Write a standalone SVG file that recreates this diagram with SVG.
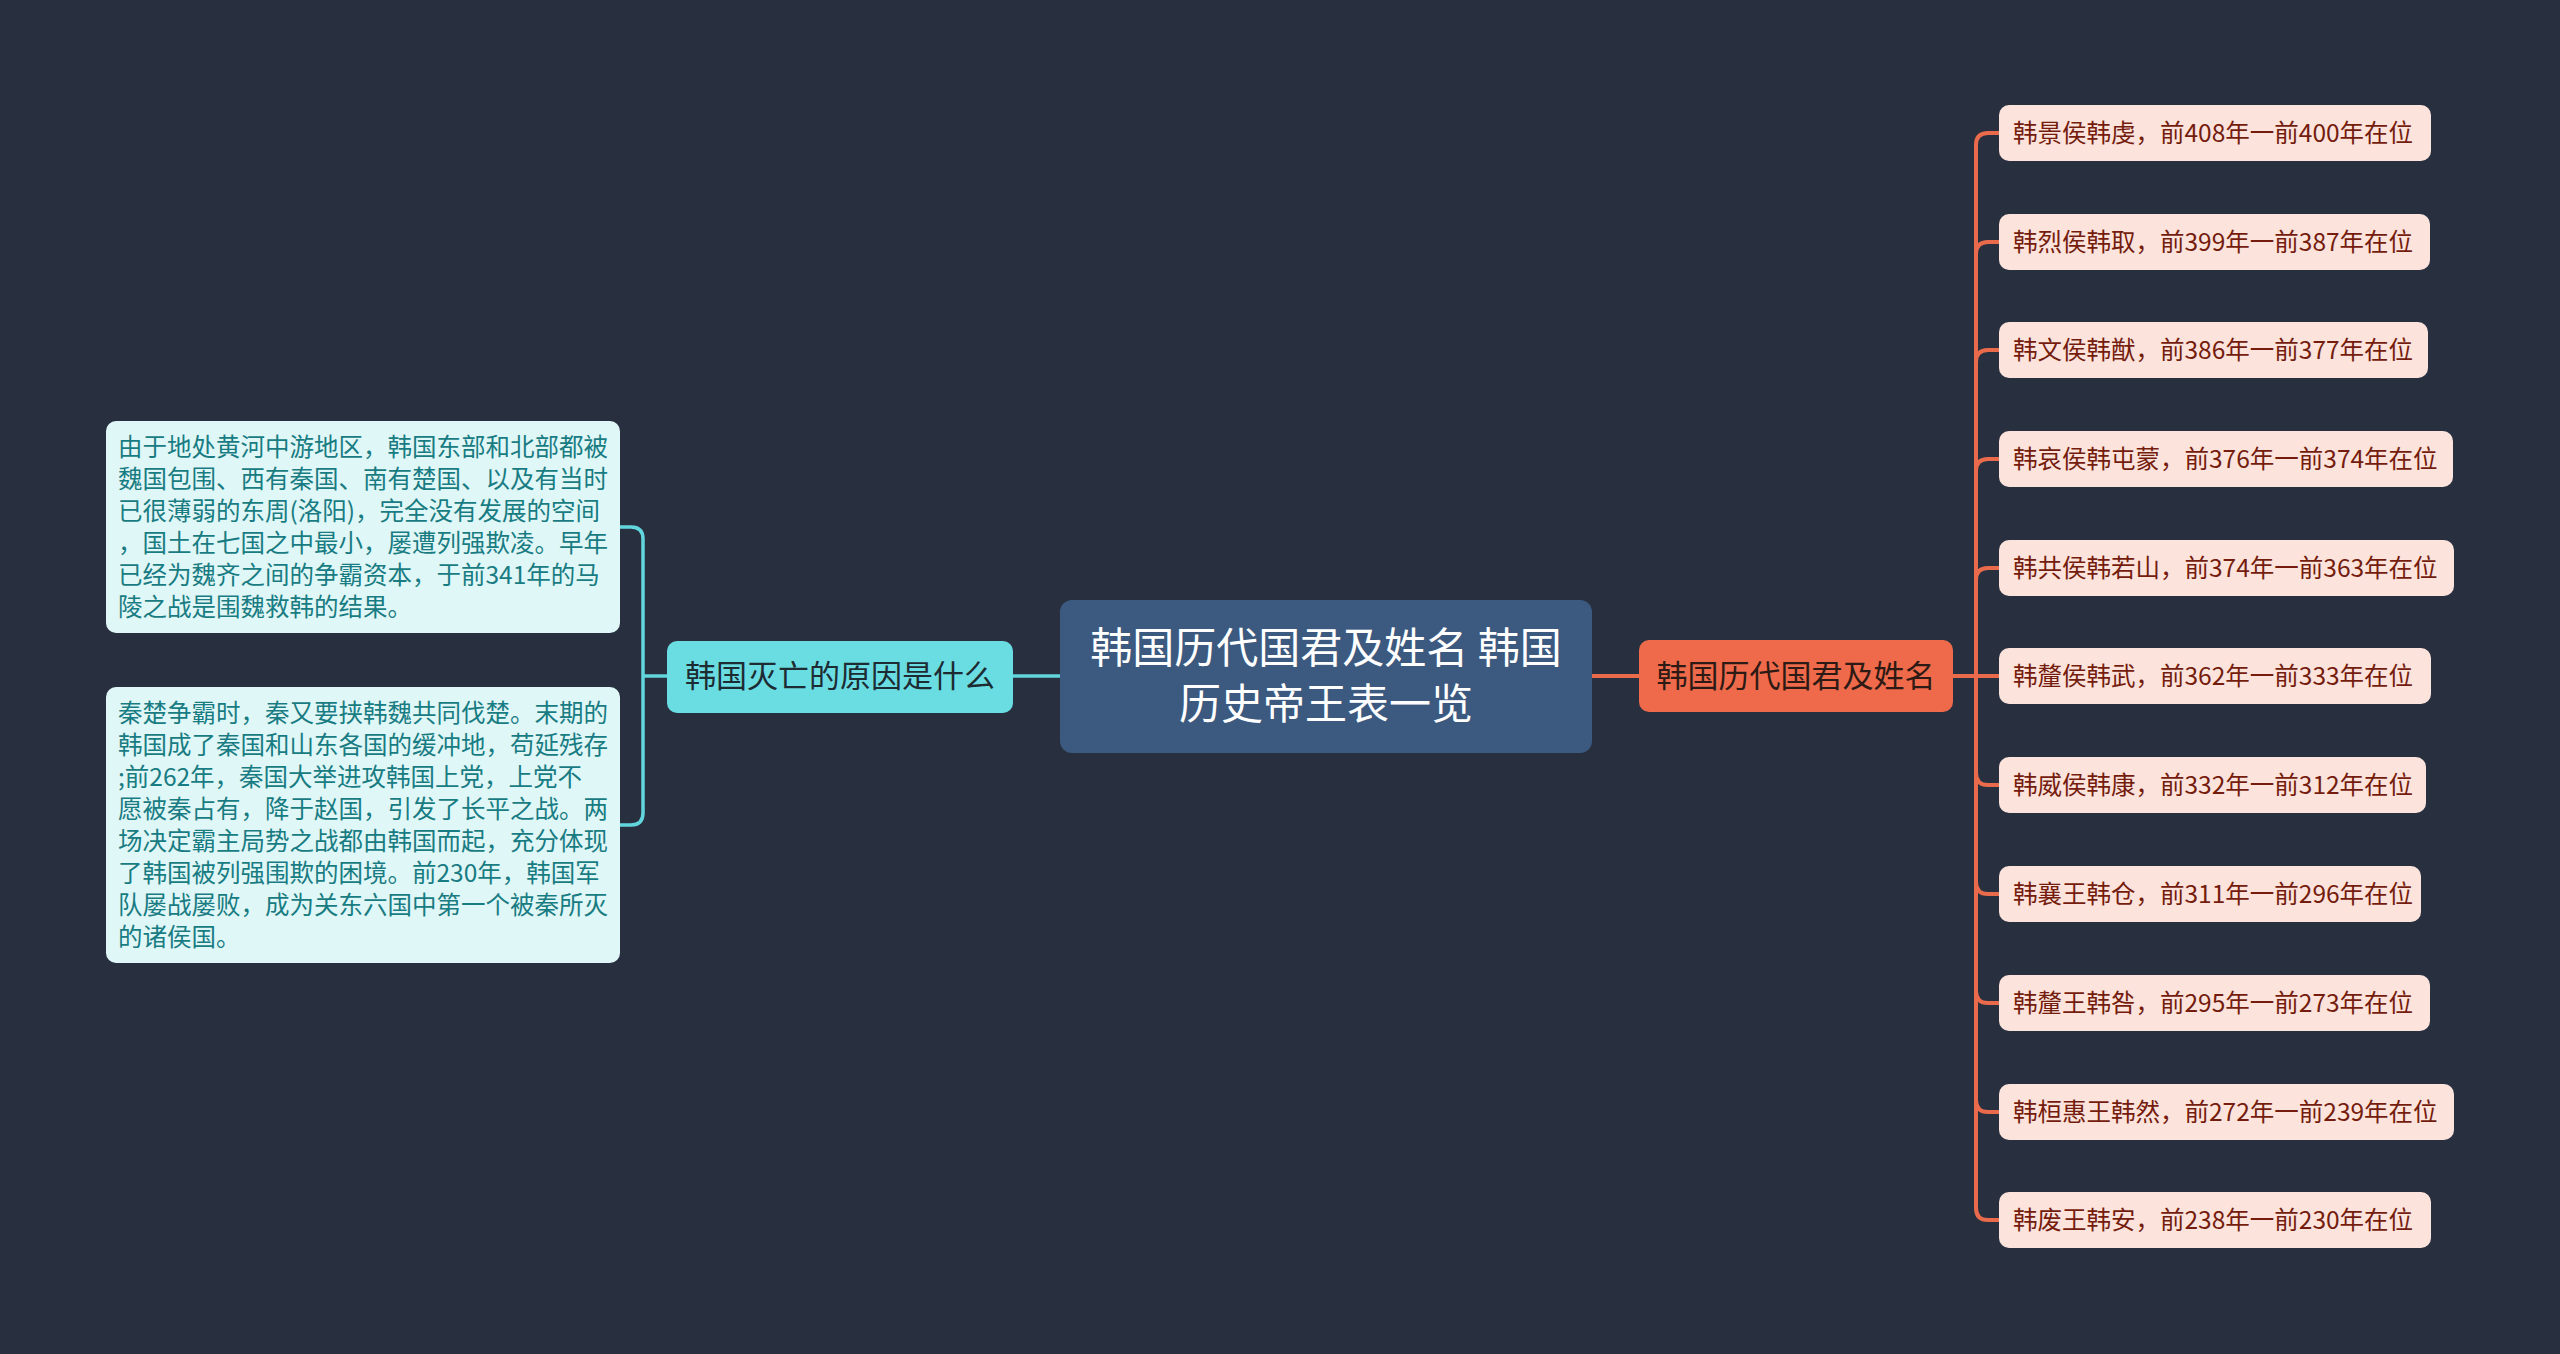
<svg xmlns="http://www.w3.org/2000/svg" width="2560" height="1354" viewBox="0 0 2560 1354">
<style>
text{font-family:"Noto Sans CJK SC","Noto Sans",sans-serif}
.root{fill:#3c5a80}
.roott{fill:#ffffff;font-size:42px;text-anchor:middle}
.sub1{fill:#ee6a4b}
.sub1t{fill:#2e1a14;font-size:31px;text-anchor:middle}
.sub2{fill:#6adde2}
.sub2t{fill:#1d2b33;font-size:31px;text-anchor:middle}
.rl{fill:#fce3dc}
.rlt{fill:#741c0d;font-size:24.5px}
.ll{fill:#e0f7f8}
.llt{fill:#187c82;font-size:24.5px}
.co{fill:none;stroke:#ea6b4c;stroke-width:4}
.cc{fill:none;stroke:#62d6dd;stroke-width:3.5}
</style>
<rect width="2560" height="1354" fill="#283040"/>
<g id="connectors">
<path class="co" d="M1592 676 H1639"/>
<path class="co" d="M1953 676 H1999"/>
<path class="co" d="M1976 676 V145 Q1976 133 1988 133 H1999"/>
<path class="co" d="M1976 676 V254 Q1976 242 1988 242 H1999"/>
<path class="co" d="M1976 676 V362 Q1976 350 1988 350 H1999"/>
<path class="co" d="M1976 676 V471 Q1976 459 1988 459 H1999"/>
<path class="co" d="M1976 676 V580 Q1976 568 1988 568 H1999"/>
<path class="co" d="M1976 676 V773 Q1976 785 1988 785 H1999"/>
<path class="co" d="M1976 676 V882 Q1976 894 1988 894 H1999"/>
<path class="co" d="M1976 676 V991 Q1976 1003 1988 1003 H1999"/>
<path class="co" d="M1976 676 V1100 Q1976 1112 1988 1112 H1999"/>
<path class="co" d="M1976 676 V1208 Q1976 1220 1988 1220 H1999"/>
<path class="cc" d="M1012 676 H1060"/>
<path class="cc" d="M667 676 H643"/>
<path class="cc" d="M643 676 V539 Q643 527 631 527 H620"/>
<path class="cc" d="M643 676 V813 Q643 825 631 825 H620"/>
</g>
<g id="root">
<rect class="root" x="1060" y="600" width="532" height="153" rx="12"/>
<text class="roott" x="1326" y="663">韩国历代国君及姓名 韩国</text>
<text class="roott" x="1326" y="719">历史帝王表一览</text>
</g>
<g id="n-kings">
<rect class="sub1" x="1639" y="640" width="314" height="72" rx="10"/>
<text class="sub1t" x="1796" y="687">韩国历代国君及姓名</text>
</g>
<g id="n-reason">
<rect class="sub2" x="667" y="641" width="346" height="72" rx="10"/>
<text class="sub2t" x="840" y="687">韩国灭亡的原因是什么</text>
</g>
<g id="k1"><rect class="rl" x="1999" y="105" width="432" height="56" rx="10"/><text class="rlt" x="2013" y="142">韩景侯韩虔，前408年一前400年在位</text></g>
<g id="k2"><rect class="rl" x="1999" y="214" width="431" height="56" rx="10"/><text class="rlt" x="2013" y="251">韩烈侯韩取，前399年一前387年在位</text></g>
<g id="k3"><rect class="rl" x="1999" y="322" width="429" height="56" rx="10"/><text class="rlt" x="2013" y="359">韩文侯韩猷，前386年一前377年在位</text></g>
<g id="k4"><rect class="rl" x="1999" y="431" width="454" height="56" rx="10"/><text class="rlt" x="2013" y="468">韩哀侯韩屯蒙，前376年一前374年在位</text></g>
<g id="k5"><rect class="rl" x="1999" y="540" width="455" height="56" rx="10"/><text class="rlt" x="2013" y="577">韩共侯韩若山，前374年一前363年在位</text></g>
<g id="k6"><rect class="rl" x="1999" y="648" width="432" height="56" rx="10"/><text class="rlt" x="2013" y="685">韩釐侯韩武，前362年一前333年在位</text></g>
<g id="k7"><rect class="rl" x="1999" y="757" width="427" height="56" rx="10"/><text class="rlt" x="2013" y="794">韩威侯韩康，前332年一前312年在位</text></g>
<g id="k8"><rect class="rl" x="1999" y="866" width="422" height="56" rx="10"/><text class="rlt" x="2013" y="903">韩襄王韩仓，前311年一前296年在位</text></g>
<g id="k9"><rect class="rl" x="1999" y="975" width="431" height="56" rx="10"/><text class="rlt" x="2013" y="1012">韩釐王韩咎，前295年一前273年在位</text></g>
<g id="k10"><rect class="rl" x="1999" y="1084" width="455" height="56" rx="10"/><text class="rlt" x="2013" y="1121">韩桓惠王韩然，前272年一前239年在位</text></g>
<g id="k11"><rect class="rl" x="1999" y="1192" width="432" height="56" rx="10"/><text class="rlt" x="2013" y="1229">韩废王韩安，前238年一前230年在位</text></g>
<g id="r1">
<rect class="ll" x="106" y="421" width="514" height="212" rx="10"/>
<text class="llt" x="118" y="456">由于地处黄河中游地区，韩国东部和北部都被</text>
<text class="llt" x="118" y="488">魏国包围、西有秦国、南有楚国、以及有当时</text>
<text class="llt" x="118" y="520">已很薄弱的东周(洛阳)，完全没有发展的空间</text>
<text class="llt" x="118" y="552">，国土在七国之中最小，屡遭列强欺凌。早年</text>
<text class="llt" x="118" y="584">已经为魏齐之间的争霸资本，于前341年的马</text>
<text class="llt" x="118" y="616">陵之战是围魏救韩的结果。</text>
</g>
<g id="r2">
<rect class="ll" x="106" y="687" width="514" height="276" rx="10"/>
<text class="llt" x="118" y="722">秦楚争霸时，秦又要挟韩魏共同伐楚。末期的</text>
<text class="llt" x="118" y="754">韩国成了秦国和山东各国的缓冲地，苟延残存</text>
<text class="llt" x="118" y="786">;前262年，秦国大举进攻韩国上党，上党不</text>
<text class="llt" x="118" y="818">愿被秦占有，降于赵国，引发了长平之战。两</text>
<text class="llt" x="118" y="850">场决定霸主局势之战都由韩国而起，充分体现</text>
<text class="llt" x="118" y="882">了韩国被列强围欺的困境。前230年，韩国军</text>
<text class="llt" x="118" y="914">队屡战屡败，成为关东六国中第一个被秦所灭</text>
<text class="llt" x="118" y="946">的诸侯国。</text>
</g>
</svg>
